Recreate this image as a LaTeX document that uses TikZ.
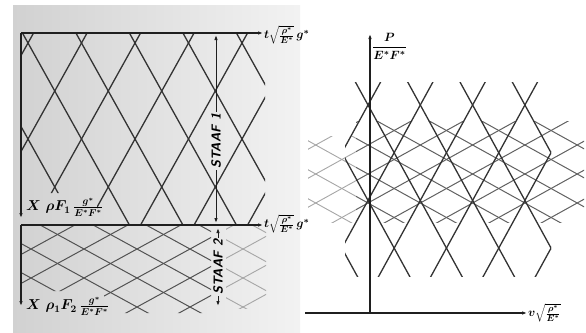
\documentclass[tikz,border=0pt]{standalone}
\usetikzlibrary{arrows.meta}
% lattice of crossing lines: #1,#2 = a crossing point, #3 = horizontal half period,
% #4 = vertical half period, #5 = half length (vertical) of each line
\newcommand{\latt}[5]{%
  \foreach \k in {-16,...,16}{%
    \draw ({#1+2*#3*\k-#3/#4*#5},{#2-#5}) -- ({#1+2*#3*\k+#3/#4*#5},{#2+#5});
    \draw ({#1+2*#3*\k+#3/#4*#5},{#2-#5}) -- ({#1+2*#3*\k-#3/#4*#5},{#2+#5});
  }}
\begin{document}
\begin{tikzpicture}[x=1pt,y=-1pt,
  >={Latex[length=5pt,width=3.6pt]},
  axis/.style={line width=1.3pt, black!88},
  dim/.style={line width=1pt, black!88},
  dark/.style={line width=1.3pt, black!80},
  mid/.style={line width=1pt, black!62},
  light/.style={line width=0.9pt, black!35},
  lbl/.style={inner sep=1pt, font=\fontsize{13}{14}\selectfont\boldmath},
  xlbl/.style={inner sep=1pt, font=\fontsize{14}{15}\selectfont\boldmath},
  staaf/.style={inner sep=1.5pt, rotate=90, font=\sffamily\bfseries\slshape\fontsize{13}{14}\selectfont}]
\useasboundingbox (0,0) rectangle (586,332);
\fill[white] (0,0) rectangle (586,332);
\shade[left color=black!18, right color=black!5] (13,5) rectangle (300,332);

% ---------- upper left: STAAF 1 characteristics ----------
\begin{scope}
  \clip (21,33) -- (265,33) -- (265,224) -- (97,224) -- (97,193) -- (21,193) -- cycle;
  \begin{scope}[dark] \latt{28}{43}{26.75}{48}{260} \end{scope}
\end{scope}

% ---------- lower left: STAAF 2 characteristics ----------
\begin{scope}
  \clip (21,225) -- (211,225) -- (211,313) -- (104,313) -- (104,291) -- (21,291) -- cycle;
  \begin{scope}[line width=1pt, black!68] \latt{137}{307}{26.5}{14.5}{130} \end{scope}
\end{scope}
\begin{scope}
  \clip (226,226) rectangle (266,308);
  \begin{scope}[light] \latt{137}{307}{26.5}{14.5}{130} \end{scope}
\end{scope}

% axes left
\coordinate (o1) at (21,33);
\coordinate (t1) at (263,33);
\coordinate (xa) at (21,218);
\coordinate (o2) at (21,225);
\coordinate (t2) at (263,225);
\coordinate (xb) at (21,306);
\draw[axis,->] (o1) -- (t1);
\draw[axis,->] (o1) -- (xa);
\draw[axis,->] (o2) -- (t2);
\draw[axis,->] (o2) -- (xb);

\node[lbl, anchor=west] (lt1) at (263,35) {$t\sqrt{\frac{\rho^*}{E^*}}\,g^*$};
\node[lbl, anchor=west] (lt2) at (263,224) {$t\sqrt{\frac{\rho^*}{E^*}}\,g^*$};
\node[xlbl, anchor=west] (lx1) at (25,207) {$X\;\rho F_1\,\frac{g^*}{E^*F^*}$};
\node[xlbl, anchor=west] (lx2) at (25,306) {$X\;\rho_1F_2\,\frac{g^*}{E^*F^*}$};

% STAAF dimension arrows
\node[staaf] (s1) at (216,141) {STAAF 1};
\coordinate (s1t) at (216,35);
\coordinate (s1b) at (216,223);
\draw[dim,->] (s1) -- (s1t);
\draw[dim,->] (s1) -- (s1b);
\node[staaf] (s2) at (218,267) {STAAF 2};
\coordinate (s2t) at (218,228);
\coordinate (s2b) at (218,306);
\draw[dim,->] (s2) -- (s2t);
\draw[dim,->] (s2) -- (s2b);

% ---------- right: P - v diagram ----------
\begin{scope}
  \clip (308,136) rectangle (356,222);
  \begin{scope}[light] \latt{368}{203}{26.15}{14.5}{130} \end{scope}
\end{scope}
\begin{scope}
  \clip (356,121) rectangle (584,222);
  \begin{scope}[mid] \latt{368}{203}{26.15}{14.5}{130} \end{scope}
\end{scope}
\begin{scope}
  \clip (345,82) rectangle (551,276);
  \begin{scope}[dark] \latt{368}{105}{26.15}{47.7}{260} \end{scope}
\end{scope}

\coordinate (po) at (370,313);
\coordinate (pt) at (370,34);
\coordinate (vl) at (305,313);
\coordinate (vr) at (527,313);
\draw[axis,->] (po) -- (pt);
\draw[axis,->] (vl) -- (vr);
\node[lbl, anchor=west] (lp) at (371,46) {$\displaystyle\frac{P}{E^*F^*}$};
\node[lbl, anchor=west] (lv) at (527,313) {$v\sqrt{\frac{\rho^*}{E^*}}$};
\end{tikzpicture}
\end{document}
